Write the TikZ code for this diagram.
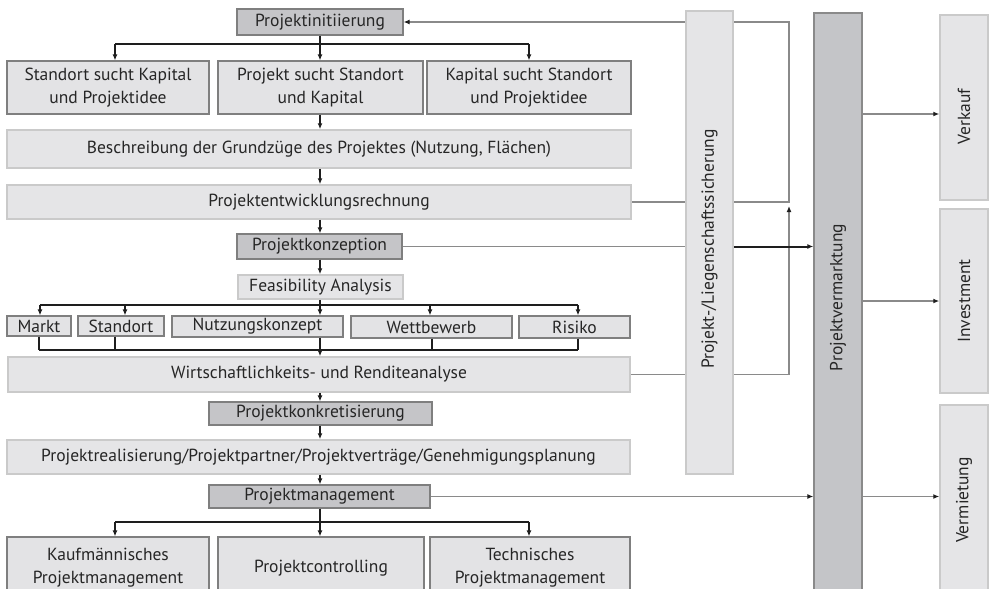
\documentclass[tikz,border=0pt]{standalone}
\usepackage{fontspec}
\setmainfont{PT Sans}
\usetikzlibrary{arrows.meta,backgrounds,calc}
\definecolor{dkfill}{HTML}{C5C5C8}
\definecolor{dkdraw}{HTML}{7F7F7F}
\definecolor{mdfill}{HTML}{E3E3E5}
\definecolor{ltfill}{HTML}{E5E5E7}
\definecolor{ltdraw}{HTML}{CACACA}
\definecolor{vmfill}{HTML}{C4C5C8}
\definecolor{vmdraw}{HTML}{8A8A8A}
\definecolor{txt}{HTML}{262626}
\definecolor{gline}{HTML}{8A8A8A}
\definecolor{bline}{HTML}{1E1E1E}
\tikzset{
 base/.style={inner sep=0pt, align=center, text=txt, font=\fontsize{17.5}{23}\selectfont},
 dkbox/.style={base, fill=dkfill, draw=dkdraw, line width=1.2pt},
 mdbox/.style={base, fill=mdfill, draw=dkdraw, line width=1.2pt},
 ltbox/.style={base, fill=ltfill, draw=ltdraw, line width=1.5pt},
 vmbox/.style={base, fill=vmfill, draw=vmdraw, line width=1.3pt},
 rotlabel/.style={base, rotate=90},
 blk/.style={draw=bline, line width=1.3pt},
 blkarr/.style={blk, -{Latex[length=6pt,width=5pt]}},
 blkthick/.style={draw=bline, line width=2pt, -{Latex[length=6pt,width=5pt]}},
 gry/.style={draw=gline, line width=1.3pt},
 gryarr/.style={gry, -{Latex[length=6pt,width=5pt,color=bline]}},
}
\newcommand{\mybox}[7]{%
 \pgfmathsetmacro\bxcx{(#3+#5)/2}\pgfmathsetmacro\bxcy{(#4+#6)/2}%
 \pgfmathsetmacro\bxw{#5-#3}\pgfmathsetmacro\bxh{#6-#4}%
 \node[#1, minimum width=\bxw pt, minimum height=\bxh pt] (#2) at (\bxcx,\bxcy) {#7};}
\begin{document}
\begin{tikzpicture}[x=1pt,y=-1pt]
\useasboundingbox (0,0) rectangle (989,589);
\clip (0,0) rectangle (989,589);
% left column
\mybox{dkbox}{pinit}{237}{9}{403}{35}{Projektinitiierung}
\mybox{mdbox}{s1}{7}{61}{209}{114}{Standort sucht Kapital\\und Projektidee}
\mybox{mdbox}{s2}{218}{61}{423}{114}{Projekt sucht Standort\\und Kapital}
\mybox{mdbox}{s3}{427}{61}{631}{114}{Kapital sucht Standort\\und Projektidee}
\mybox{ltbox}{besch}{7}{130}{631}{168}{Beschreibung der Grundzüge des Projektes (Nutzung, Flächen)}
\mybox{ltbox}{entw}{7}{185}{631}{219}{Projektentwicklungsrechnung}
\mybox{dkbox}{konz}{237}{234}{402}{259}{Projektkonzeption}
\mybox{ltbox}{feas}{238}{275}{403}{299}{Feasibility Analysis}
\mybox{mdbox}{markt}{7}{316}{71}{336}{Markt}
\mybox{mdbox}{stand}{78}{316}{164}{336}{Standort}
\mybox{mdbox}{nutz}{172}{316}{343}{337}{Nutzungskonzept}
\mybox{mdbox}{wett}{351}{316}{512}{338}{Wettbewerb}
\mybox{mdbox}{risk}{519}{316}{630}{338}{Risiko}
\mybox{ltbox}{wirt}{8}{357}{630}{392}{Wirtschaftlichkeits- und Renditeanalyse}
\mybox{dkbox}{konk}{209}{402}{432}{425}{Projektkonkretisierung}
\mybox{ltbox}{real}{7}{440}{630}{474}{Projektrealisierung/Projektpartner/Projektverträge/Genehmigungsplanung}
\mybox{dkbox}{mgmt}{209}{485}{430}{508}{Projektmanagement}
\mybox{mdbox}{k1}{7}{537}{209}{599}{Kaufmännisches\\Projektmanagement}
\mybox{mdbox}{k2}{218}{537}{424}{599}{Projektcontrolling}
\mybox{mdbox}{k3}{430}{537}{630}{599}{Technisches\\Projektmanagement}
% right columns
\mybox{ltbox}{liegen}{686}{11}{733}{474}{}
\node[rotlabel] (liegtxt) at (709.5,249) {Projekt-/Liegenschaftssicherung};
\mybox{vmbox}{verm}{814}{13}{862}{600}{}
\node[rotlabel] (vermtxt) at (838,297.5) {Projektvermarktung};
\mybox{ltbox}{verk}{940}{15}{988}{200}{}
\node[rotlabel] (verktxt) at (964,116.5) {Verkauf};
\mybox{ltbox}{inv}{940}{209}{988}{393}{}
\node[rotlabel] (invtxt) at (964,301) {Investment};
\mybox{ltbox}{vmiet}{940}{405}{988}{600}{}
\node[rotlabel] (vmiettxt) at (964,500) {Vermietung};
% helper coordinates
\coordinate (col) at (320,0);
\coordinate (ta) at (115,44);
\coordinate (tb) at (529,44);
\coordinate (fa) at (40,305);
\coordinate (fs) at (125,305);
\coordinate (fw) at (430,305);
\coordinate (fb) at (578,305);
\coordinate (ga) at (39,350);
\coordinate (gs) at (115,350);
\coordinate (gw) at (432,350);
\coordinate (gb) at (578,350);
\coordinate (ha) at (115,522);
\coordinate (hb) at (529,522);
\coordinate (fbx) at (789,0);
\coordinate (fbup) at (789,206);
\coordinate (r1) at (0,114);
% top tree
\draw[blk] (ta) -- (tb);
\draw[blkarr] (col |- pinit.south) -- (col |- s2.north);
\draw[blkarr] (ta) -- (ta |- s1.north);
\draw[blkarr] (tb) -- (tb |- s3.north);
\draw[blkarr] (col |- s2.south) -- (col |- besch.north);
\draw[blkarr] (col |- besch.south) -- (col |- entw.north);
\draw[blkarr] (col |- entw.south) -- (col |- konz.north);
\draw[blkarr] (col |- konz.south) -- (col |- feas.north);
% feasibility tree
\draw[blk] (fa) -- (fb);
\draw[blkarr] (col |- feas.south) -- (col |- nutz.north);
\draw[blkarr] (fa) -- (fa |- markt.north);
\draw[blkarr] (fs) -- (fs |- stand.north);
\draw[blkarr] (fw) -- (fw |- wett.north);
\draw[blkarr] (fb) -- (fb |- risk.north);
\draw[blk] (ga) -- (gb);
\draw[blk] (ga |- markt.south) -- (ga);
\draw[blk] (gs |- stand.south) -- (gs);
\draw[blk] (gw |- wett.south) -- (gw);
\draw[blk] (gb |- risk.south) -- (gb);
\draw[blkarr] (col |- nutz.south) -- (col |- wirt.north);
\draw[blkarr] (col |- wirt.south) -- (col |- konk.north);
\draw[blkarr] (col |- konk.south) -- (col |- real.north);
\draw[blkarr] (col |- real.south) -- (col |- mgmt.north);
% bottom tree
\draw[blk] (ha) -- (hb);
\draw[blkarr] (col |- mgmt.south) -- (col |- k2.north);
\draw[blkarr] (ha) -- (ha |- k1.north);
\draw[blkarr] (hb) -- (hb |- k3.north);
% feedback lines behind the Liegenschaft box
\begin{scope}[on background layer]
\draw[gryarr] (entw.east) -- (fbx |- entw.east) -- (fbx |- pinit.east) -- (pinit.east);
\draw[gryarr] (wirt.east) -- (fbx |- wirt.east) -- (fbup);
\end{scope}
\draw[gry] (konz.east) -- (liegen.west |- konz.east);
\draw[blkthick] (liegen.east |- konz.east) -- (verm.west |- konz.east);
\draw[gryarr] (mgmt.east) -- (verm.west |- mgmt.east);
\draw[gryarr] (verm.east |- r1) -- (verk.west |- r1);
\draw[gryarr] (verm.east |- inv.west) -- (inv.west);
\draw[gryarr] (verm.east |- mgmt.east) -- (vmiet.west |- mgmt.east);
\end{tikzpicture}
\end{document}
